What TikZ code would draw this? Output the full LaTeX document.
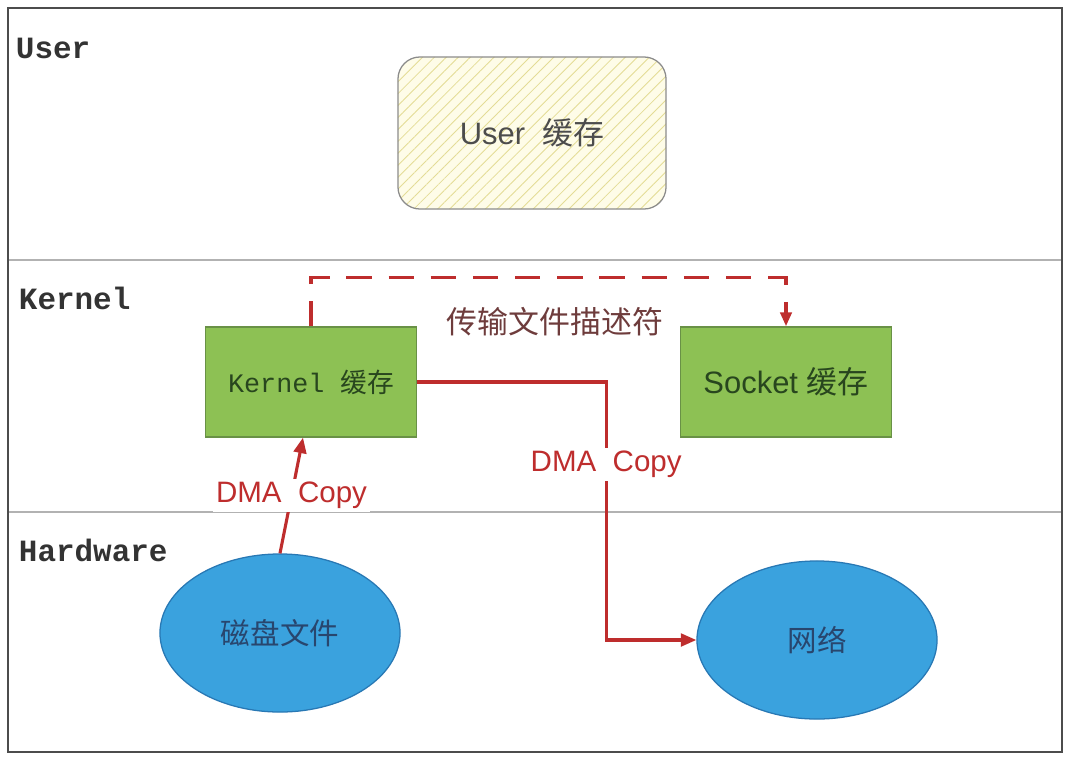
\documentclass[tikz,border=0pt]{standalone}
\usepackage{fontspec}
\setmainfont{Liberation Sans}
\newfontfamily\cjkfont{Noto Sans CJK SC}
\newfontfamily\monofont{Liberation Mono}
\usetikzlibrary{positioning, arrows.meta, shapes.geometric, patterns.meta, calc}
\definecolor{dmared}{RGB}{190,45,45}
\definecolor{kgreen}{RGB}{141,193,84}
\definecolor{kgreenline}{RGB}{105,145,70}
\definecolor{hwblue}{RGB}{58,162,222}
\definecolor{hwblueline}{RGB}{40,120,180}
\definecolor{ufill}{RGB}{254,252,232}
\definecolor{uhatch}{RGB}{228,220,150}
\definecolor{fdtext}{RGB}{110,60,60}
\definecolor{hwtext}{RGB}{40,70,110}
\definecolor{ktext}{RGB}{40,70,30}
\tikzset{
    framebox/.style={draw=black!70, line width=1.4pt},
    divider/.style={draw=black!30, line width=1.1pt},
    layerlbl/.style={anchor=west, font=\monofont\bfseries\fontsize{22}{26}\selectfont, text=black!80},
    userbuf/.style={rectangle, rounded corners=0.55cm, draw=black!45, line width=0.9pt, minimum width=6.7cm, minimum height=3.8cm, preaction={fill=ufill}, pattern={Lines[angle=45, distance=6pt, line width=0.6pt]}, pattern color=uhatch, font=\fontsize{22}{26}\selectfont, text=black!70},
    kbox/.style={rectangle, draw=kgreenline, fill=kgreen, line width=0.9pt, minimum width=5.275cm, minimum height=2.75cm, font=\fontsize{22}{26}\selectfont, text=ktext},
    hwell/.style={ellipse, draw=hwblueline, fill=hwblue, line width=0.9pt, minimum width=6cm, minimum height=3.95cm, font=\cjkfont\fontsize{21}{25}\selectfont, text=hwtext},
    dmaarr/.style={-{Triangle[length=11pt, width=9pt]}, line width=2.2pt, color=dmared},
    fdarr/.style={-{Triangle[length=10pt, width=8pt]}, line width=2.6pt, color=dmared, dash pattern=on 18pt off 12pt},
    dmalbl/.style={fill=white, inner sep=2pt, font=\fontsize{21}{25}\selectfont, text=dmared},
    fdlbl/.style={font=\cjkfont\fontsize{22}{26}\selectfont, text=fdtext}
}
\begin{document}
\begin{tikzpicture}[x=0.025cm, y=-0.025cm]
\useasboundingbox (0,0) rectangle (1074,778);
% layers
\draw[framebox] (8,8) rectangle (1062,752);
\draw[divider] (9,260) -- (1061,260);
\draw[divider] (9,512) -- (1061,512);
\node[layerlbl] (luser) at (11,48) {User};
\node[layerlbl] (lkern) at (14,298) {Kernel};
\node[layerlbl] (lhard) at (14,550) {Hardware};
% buffers and devices
\node[userbuf] (ubuf) at (532,133) {User\ \ {\cjkfont 缓存}};
\node[kbox, font=\fontsize{19}{24}\selectfont] (kbuf) at (311,382) {\monofont Kernel\ {\cjkfont 缓存}};
\node[kbox] (sbuf) at (786,382) {Socket\ {\cjkfont 缓存}};
\node[hwell] (disk) at (280,633) {磁盘文件};
\node[hwell] (net) at (817,640) {网络};
% copies
\draw[dmaarr] (disk.north) -- node[dmalbl] {DMA\ \ Copy} ([xshift=-0.2cm]kbuf.south);
\draw[dmaarr] (kbuf.east) -- ++(189,0) |- node[dmalbl, pos=0.16] {DMA\ \ Copy} (net.west);
\draw[fdarr] (kbuf.north) -- ++(0,-49) -| (sbuf.north);
\node[fdlbl] (fdtxt) at (555,322) {传输文件描述符};
\end{tikzpicture}
\end{document}
